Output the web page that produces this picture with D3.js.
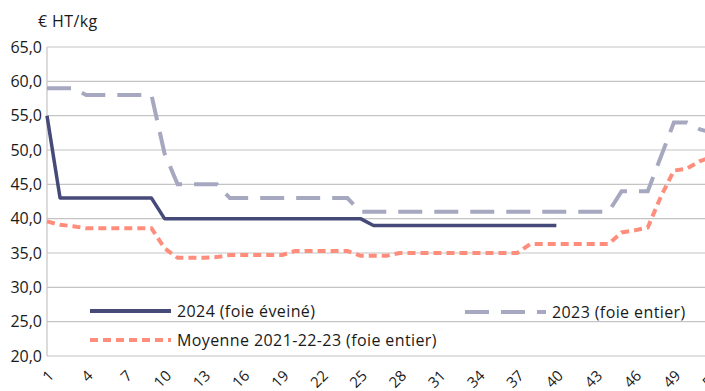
<!DOCTYPE html>
<html><head><meta charset="utf-8">
<script src="https://cdn.jsdelivr.net/npm/d3@7"></script>
<style>
html,body{margin:0;padding:0;background:#fff;}
svg{display:block;font-family:"Open Sans",sans-serif;}
</style></head>
<body><svg id="c" width="705" height="391"></svg>
<script>
const weeks = d3.range(1, 53);
const tickWeeks = [1,4,7,10,13,16,19,22,25,28,31,34,37,40,43,46,49,52];
const yTicks = [20,25,30,35,40,45,50,55,60,65];
const yTickLabels = ["20,0","25,0","30,0","35,0","40,0","45,0","50,0","55,0","60,0","65,0"];
const unitLabel = "€ HT/kg";
const seriesNames = ["2024 (foie éveiné)", "2023 (foie entier)", "Moyenne 2021-22-23 (foie entier)"];
// 2024: weeks 1..40
const v2024 = [55,43,43,43,43,43,43,43,43,40,40,40,40,40,40,40,40,40,40,40,40,40,40,40,40,39,39,39,39,39,39,39,39,39,39,39,39,39,39,39];
// 2023: weeks 1..52
const v2023 = [59,59,59,58,58,58,58,58,58,49.5,45,45,45,45,43,43,43,43,43,43,43,43,43,43,41,41,41,41,41,41,41,41,41,41,41,41,41,41,41,41,41,41,41,41,44,44,44,49,54,54,53,52.5];
// Moyenne 2021-22-23: weeks 1..52
const vMoy = [39.6,39.1,38.9,38.6,38.6,38.6,38.6,38.6,38.6,35.7,34.3,34.3,34.3,34.4,34.7,34.7,34.7,34.7,34.7,35.3,35.3,35.3,35.3,35.3,34.6,34.6,34.6,35.0,35.0,35.0,35.0,35.0,35.0,35.0,35.0,35.0,35.0,36.3,36.3,36.3,36.3,36.3,36.3,36.3,38.0,38.3,38.7,43.2,47.0,47.3,48.4,49.0];

const svg = d3.select("#c");
const mLeft = 47, mTop = 47, mBottom = 356;
const step = 13.06;
const x = d3.scaleLinear().domain([1, 52]).range([mLeft, mLeft + 51*step]);
const y = d3.scaleLinear().domain([20, 65]).range([mBottom, mTop]);

const gridColor = "#c4c4c4";
svg.append("g").selectAll("line").data(yTicks).join("line")
  .attr("x1", mLeft).attr("x2", 705)
  .attr("y1", d => y(d)).attr("y2", d => y(d))
  .attr("stroke", gridColor).attr("stroke-width", 1.2);
svg.append("line").attr("x1", mLeft).attr("x2", mLeft).attr("y1", y(65)).attr("y2", y(20))
  .attr("stroke", gridColor).attr("stroke-width", 1.2);

svg.append("g").selectAll("text").data(yTicks).join("text")
  .attr("x", 42).attr("y", d => y(d)).attr("dy", "0.36em")
  .attr("text-anchor", "end").attr("font-size", 16).attr("fill", "#1a1a1a")
  .text((d,i) => yTickLabels[i]);

svg.append("text").attr("x", 38).attr("y", 27).attr("font-size", 16).attr("fill", "#1a1a1a")
  .attr("letter-spacing", 0.4).text(unitLabel);

svg.append("g").selectAll("text").data(tickWeeks).join("text")
  .attr("transform", d => `translate(${x(d)+4},${373}) rotate(-45)`)
  .attr("text-anchor", "end").attr("dy", "0.35em")
  .attr("font-size", 15).attr("fill", "#1a1a1a")
  .text(d => d);

const line = d3.line().x(d => x(d[0])).y(d => y(d[1]));
const colors = ["#464a78", "#a6a8c0", "#fe8d7c"];

svg.append("path").datum(vMoy.map((v,i)=>[weeks[i], v]))
  .attr("d", line).attr("fill","none").attr("stroke", colors[2]).attr("stroke-width", 4)
  .attr("stroke-dasharray", "8,5");
svg.append("path").datum(v2023.map((v,i)=>[weeks[i], v]))
  .attr("d", line).attr("fill","none").attr("stroke", colors[1]).attr("stroke-width", 4)
  .attr("stroke-dasharray", "24,12");
svg.append("path").datum(v2024.map((v,i)=>[weeks[i], v]))
  .attr("d", line).attr("fill","none").attr("stroke", colors[0]).attr("stroke-width", 3.5)
  .attr("stroke-linejoin","round");

const leg = [
  {name: seriesNames[0], x: 90, y: 311, dash: null, w: 4, c: colors[0]},
  {name: seriesNames[1], x: 465, y: 312, dash: "24,12", w: 4, c: colors[1]},
  {name: seriesNames[2], x: 90, y: 340, dash: "8,5", w: 4, c: colors[2]}
];
const lg = svg.append("g");
leg.forEach(l => {
  lg.append("line").attr("x1", l.x).attr("x2", l.x + 81).attr("y1", l.y).attr("y2", l.y)
    .attr("stroke", l.c).attr("stroke-width", l.w).attr("stroke-dasharray", l.dash);
  lg.append("text").attr("x", l.x + 87).attr("y", l.y).attr("dy", "0.36em")
    .attr("font-size", 16).attr("letter-spacing", 0.4).attr("fill", "#1a1a1a").text(l.name);
});
</script></body></html>
